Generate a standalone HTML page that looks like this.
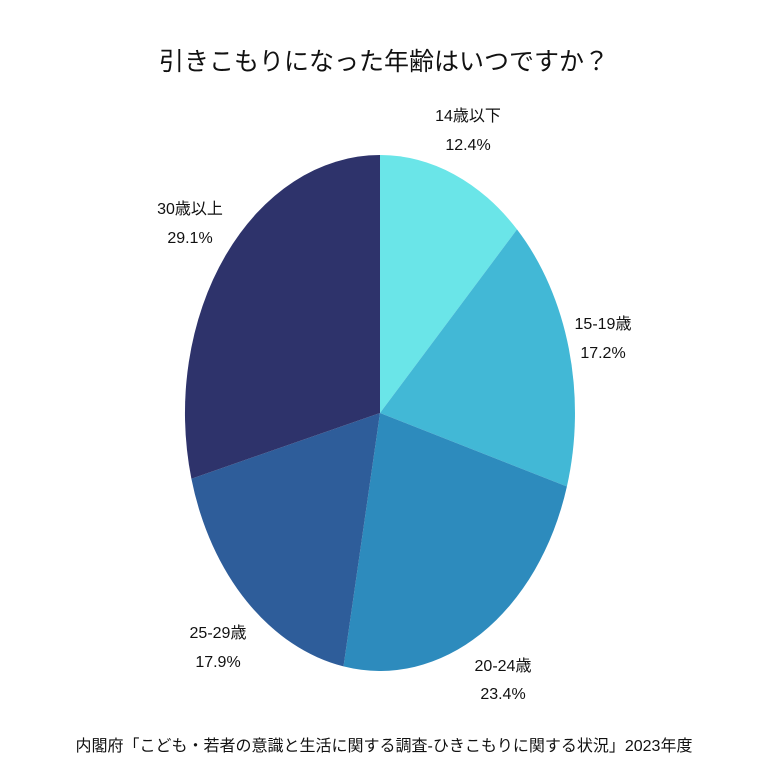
<!DOCTYPE html>
<html><head><meta charset="utf-8"><style>
html,body{margin:0;padding:0;background:#fff;}
svg text{font-family:"Liberation Sans","Noto Sans CJK JP",sans-serif;fill:#111;}
</style></head><body>
<svg width="768" height="768" viewBox="0 0 768 768" xmlns="http://www.w3.org/2000/svg">
<rect width="768" height="768" fill="#fff"/>
<text x="384" y="70" font-size="25" text-anchor="middle">引きこもりになった年齢はいつですか？</text>
<path d="M380,413 L380,155 A195,258 0 0,1 517,229.4 Z" fill="#6ae5e8"/>
<path d="M380,413 L517,229.4 A195,258 0 0,1 566.9,486.5 Z" fill="#42b8d6"/>
<path d="M380,413 L566.9,486.5 A195,258 0 0,1 343.5,666.4 Z" fill="#2d8bbd"/>
<path d="M380,413 L343.5,666.4 A195,258 0 0,1 191.4,478.7 Z" fill="#2e5d9a"/>
<path d="M380,413 L191.4,478.7 A195,258 0 0,1 380,155 Z" fill="#2e336b"/>
<g font-size="16" text-anchor="middle">
<text x="468" y="121">14歳以下</text><text x="468" y="150">12.4%</text>
<text x="603" y="329">15-19歳</text><text x="603" y="358">17.2%</text>
<text x="503" y="671">20-24歳</text><text x="503" y="699">23.4%</text>
<text x="218" y="638">25-29歳</text><text x="218" y="667">17.9%</text>
<text x="190" y="214">30歳以上</text><text x="190" y="243">29.1%</text>
</g>
<text x="384" y="751" font-size="16" text-anchor="middle">内閣府「こども・若者の意識と生活に関する調査-ひきこもりに関する状況」2023年度</text>
</svg>
</body></html>
